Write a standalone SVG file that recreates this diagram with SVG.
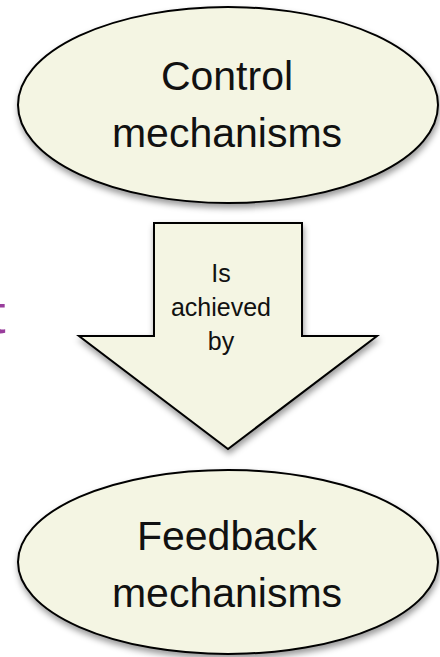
<svg xmlns="http://www.w3.org/2000/svg" width="440" height="657" viewBox="0 0 440 657">
  <defs>
    <filter id="shadow" x="-10%" y="-10%" width="120%" height="125%">
      <feDropShadow dx="1" dy="4" stdDeviation="3" flood-color="#000" flood-opacity="0.4"/>
    </filter>
  </defs>
  <style>
    .shape { fill: #f4f5e3; stroke: #000; stroke-width: 2; filter: url(#shadow); }
    .big { font-family: "Liberation Sans", Arial, sans-serif; font-size: 41px; fill: #111; text-anchor: middle; }
    .small { font-family: "Liberation Sans", Arial, sans-serif; font-size: 25px; fill: #111; text-anchor: middle; }
    .accent { font-family: "Liberation Sans", Arial, sans-serif; font-size: 56px; fill: #993d9c; }
  </style>

  <rect width="440" height="657" fill="#fff"/>

  <!-- partial heading letter at the left edge -->
  <text class="accent" x="-10" y="333">t</text>

  <!-- connector: block arrow -->
  <g id="connectors">
    <g id="arrow-achieved-by">
      <path class="shape" d="M154,223 H302 V336 H377 L228,449 L79,336 H154 Z"/>
      <text class="small" x="221" y="282">Is</text>
      <text class="small" x="221" y="316">achieved</text>
      <text class="small" x="221" y="350">by</text>
    </g>
  </g>

  <g id="node-control">
    <ellipse class="shape" cx="228" cy="105" rx="210" ry="98"/>
    <text class="big" x="227" y="90">Control</text>
    <text class="big" x="227" y="147">mechanisms</text>
  </g>

  <g id="node-feedback">
    <ellipse class="shape" cx="228" cy="562" rx="210" ry="92"/>
    <text class="big" x="227" y="550">Feedback</text>
    <text class="big" x="227" y="607">mechanisms</text>
  </g>
</svg>
